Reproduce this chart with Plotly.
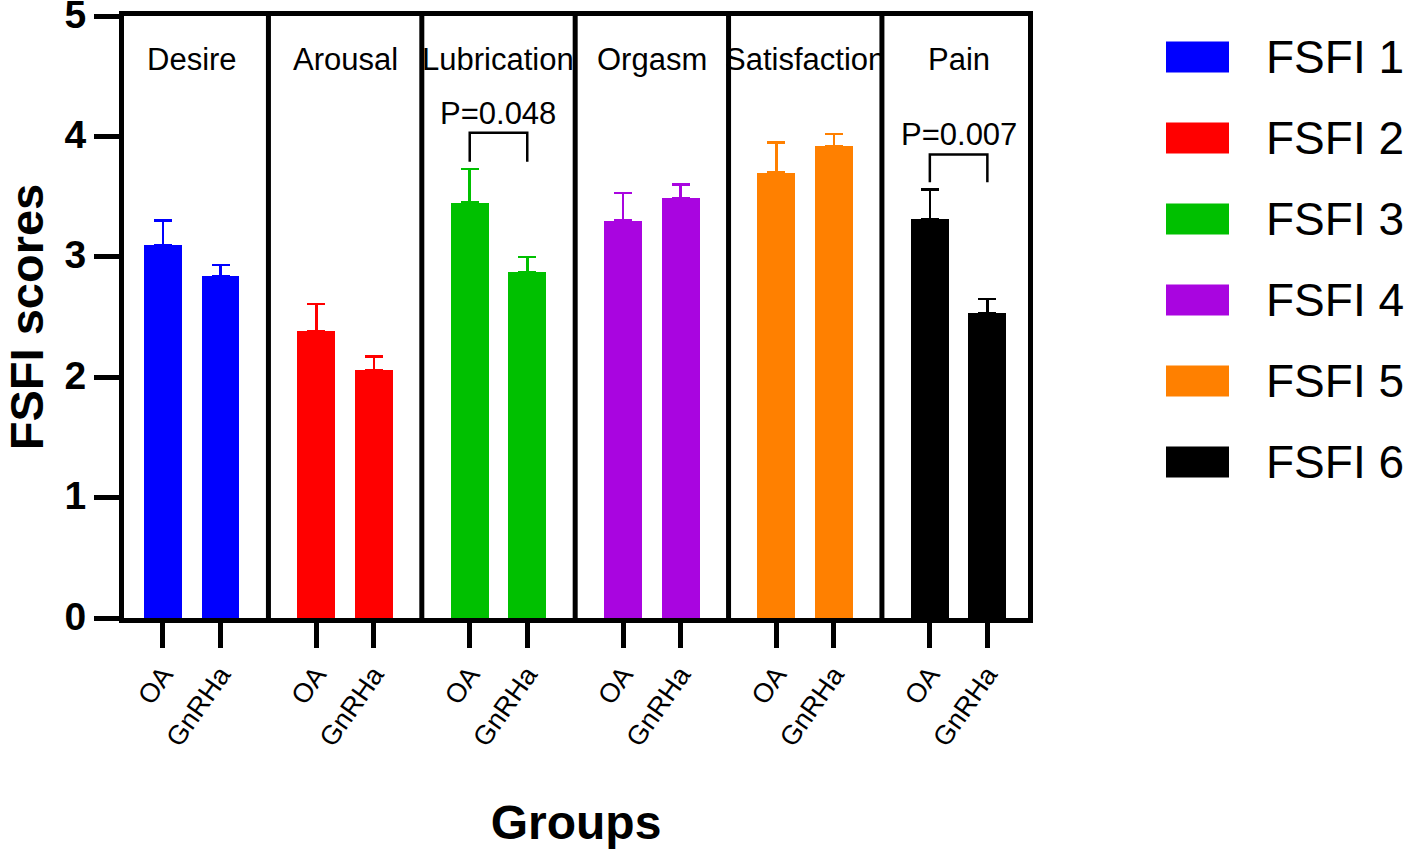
import plotly.graph_objects as go

# ---- data ----
domains = ["Desire", "Arousal", "Lubrication", "Orgasm", "Satisfaction", "Pain"]
series_names = ["FSFI 1", "FSFI 2", "FSFI 3", "FSFI 4", "FSFI 5", "FSFI 6"]
groups = ["OA", "GnRHa"]
colors = ["#0000FF", "#FF0000", "#00C000", "#A905E0", "#FF8000", "#000000"]
oa_mean = [3.10, 2.38, 3.45, 3.30, 3.70, 3.31]
oa_upper = [3.30, 2.61, 3.73, 3.53, 3.95, 3.56]
gn_mean = [2.84, 2.06, 2.87, 3.49, 3.92, 2.53]
gn_upper = [2.93, 2.17, 3.00, 3.60, 4.02, 2.65]
p_texts = ["P=0.048", "P=0.007"]
p_domain_idx = [2, 5]
p_bracket_top = [4.03, 3.85]
p_bracket_bottom = [3.79, 3.62]
y_ticks = [0, 1, 2, 3, 4, 5]

FONT = "Arial, 'Liberation Sans', Helvetica, sans-serif"
GROUP_STEP = 8 / 3
BAR_W = 0.66

fig = go.Figure()
tickvals, ticktext = [], []
for i, d in enumerate(domains):
    xs = [i * GROUP_STEP, i * GROUP_STEP + 1]
    means = [oa_mean[i], gn_mean[i]]
    ups = [oa_upper[i] - oa_mean[i], gn_upper[i] - gn_mean[i]]
    fig.add_trace(go.Bar(
        x=xs, y=means, width=BAR_W, name=series_names[i],
        marker=dict(color=colors[i], line=dict(width=0)),
        error_y=dict(type="data", array=ups, arrayminus=[0, 0], symmetric=False,
                     color=colors[i], thickness=2.5, width=9),
        showlegend=False,
    ))
    tickvals += xs
    ticktext += groups
    # panel title
    fig.add_annotation(x=i * GROUP_STEP + 0.5, y=4.64, xref="x", yref="y", text=d,
                       showarrow=False, font=dict(family=FONT, size=31, color="black"))
    # divider
    if i < len(domains) - 1:
        xd = i * GROUP_STEP + (1 + GROUP_STEP) / 2
        fig.add_shape(type="line", x0=xd, x1=xd, y0=0, y1=1, xref="x", yref="paper",
                      line=dict(color="black", width=5))

# p-value brackets
for t, gi, top, bot in zip(p_texts, p_domain_idx, p_bracket_top, p_bracket_bottom):
    x0 = gi * GROUP_STEP
    x1 = x0 + 1
    fig.add_shape(type="path", xref="x", yref="y",
                  path=f"M {x0},{bot} L {x0},{top} L {x1},{top} L {x1},{bot}",
                  line=dict(color="black", width=2.5))
    fig.add_annotation(x=(x0 + x1) / 2, y=top, xref="x", yref="y", text=t, showarrow=False,
                       yanchor="bottom", yshift=0, font=dict(family=FONT, size=31, color="black"))

# manual legend
PL, PR, PT, PB = 124, 388, 16, 231
W, H = 1416 - PL - PR, 849 - PT - PB
def px(x):
    return (x - PL) / W
def py(y):
    return (849 - PB - y) / H
for k, (nm, c) in enumerate(zip(series_names, colors)):
    cy = 57 + 81 * k
    fig.add_shape(type="rect", xref="paper", yref="paper",
                  x0=px(1166), x1=px(1229), y0=py(cy + 15.5), y1=py(cy - 15.5),
                  fillcolor=c, line=dict(width=0))
    fig.add_annotation(x=px(1265), y=py(cy), xref="paper", yref="paper", text=nm,
                       showarrow=False, xanchor="left", yanchor="middle", borderpad=0,
                       font=dict(family=FONT, size=46, color="black"))

fig.update_layout(
    width=1416, height=849,
    margin=dict(l=PL, r=PR, t=PT, b=PB, autoexpand=False),
    plot_bgcolor="white", paper_bgcolor="white",
    bargap=0,
    font=dict(family=FONT, color="black"),
    xaxis=dict(
        range=[-0.678, 15.04], tickvals=tickvals, ticktext=ticktext, automargin=False,
        tickangle=-55, tickfont=dict(family=FONT, size=27, color="black"),
        ticks="outside", ticklen=25, tickwidth=5, tickcolor="black",
        showline=True, linewidth=5, linecolor="black", mirror=True,
        showgrid=False, zeroline=False, ticklabeloverflow="allow",
        title=dict(text="Groups", font=dict(family=FONT, size=48, color="black", weight="bold"),
                   standoff=58),
    ),
    yaxis=dict(
        range=[0, 5], tickvals=y_ticks, automargin=False,
        tickfont=dict(family=FONT, size=39, color="black", weight="bold"),
        ticks="outside", ticklen=25, tickwidth=5, tickcolor="black",
        showline=True, linewidth=5, linecolor="black", mirror=True,
        showgrid=False, zeroline=False, ticklabeloverflow="allow", ticklabelshift=-2,
        title=dict(text="FSFI scores", font=dict(family=FONT, size=47, color="black", weight="bold"),
                   standoff=23),
    ),
)

fig.write_html(
    "out.html",
    config={"displayModeBar": False},
    post_script="document.body.style.margin='0';document.body.style.overflow='hidden';",
)
